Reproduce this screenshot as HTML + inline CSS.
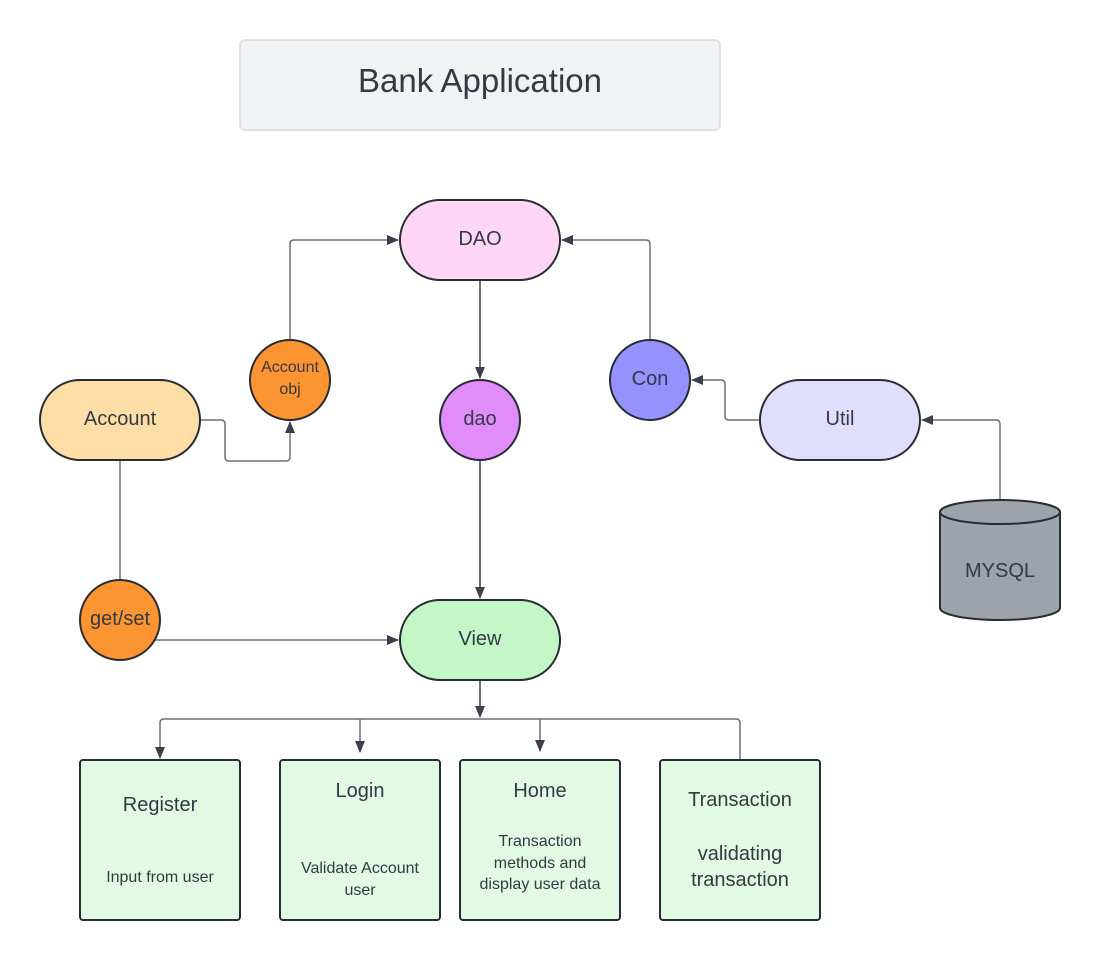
<!DOCTYPE html>
<html><head><meta charset="utf-8"><style>html,body{margin:0;padding:0;background:#fff;}svg{display:block;}</style></head>
<body>
<svg width="1100" height="960" viewBox="0 0 1100 960" xmlns="http://www.w3.org/2000/svg" font-family="Liberation Sans, Arial, sans-serif">
<defs>
<marker id="a" markerWidth="12" markerHeight="10" refX="11" refY="5" orient="auto" markerUnits="userSpaceOnUse">
<path d="M0,0 L12,5 L0,10 Z" fill="#3a414a"/></marker>
</defs>
<rect x="240" y="40" width="480" height="90" rx="5" fill="#f1f2f4" stroke="#dfe1e6" stroke-width="2"/>
<text x="480" y="92" font-size="33" text-anchor="middle" fill="#333a44">Bank Application</text>

<g fill="none" stroke="#6b7079" stroke-width="1.5">
<path d="M290,340 V244 Q290,240 294,240 H398" marker-end="url(#a)"/>
<path d="M200,420 H221 Q225,420 225,424 V457 Q225,461 229,461 H286 Q290,461 290,457 V422" marker-end="url(#a)"/>
<path d="M480,280 V378" stroke="#3a414a" marker-end="url(#a)"/>
<path d="M650,340 V244 Q650,240 646,240 H562" marker-end="url(#a)"/>
<path d="M760,420 H729 Q725,420 725,416 V384 Q725,380 721,380 H692" marker-end="url(#a)"/>
<path d="M1000,500 V424 Q1000,420 996,420 H922" marker-end="url(#a)"/>
<path d="M480,460 V598" stroke="#3a414a" marker-end="url(#a)"/>
<path d="M120,460 V580"/>
<path d="M155,640 H398" marker-end="url(#a)"/>
<path d="M480,680 V717" stroke="#3a414a" marker-end="url(#a)"/>
<path d="M736,719 H164 Q160,719 160,723 V758" marker-end="url(#a)"/>
<path d="M736,719 Q740,719 740,723 V760"/>
<path d="M360,719 V752" marker-end="url(#a)"/>
<path d="M540,719 V751" marker-end="url(#a)"/>
</g>

<g stroke="#282c33" stroke-width="2">
<rect x="400" y="200" width="160" height="80" rx="40" fill="#fed6f5"/>
<circle cx="290" cy="380" r="40" fill="#fc9432"/>
<circle cx="480" cy="420" r="40" fill="#e08cfa"/>
<circle cx="650" cy="380" r="40" fill="#9591fe"/>
<rect x="40" y="380" width="160" height="80" rx="40" fill="#fedea6"/>
<rect x="760" y="380" width="160" height="80" rx="40" fill="#dfdefd"/>
<path d="M940,512 V608 A60,12 0 0 0 1060,608 V512 A60,12 0 0 0 940,512 Z" fill="#9ea3ab"/>
<path d="M940,512 A60,12 0 0 0 1060,512" fill="none"/>
<circle cx="120" cy="620" r="40" fill="#fc9432"/>
<rect x="400" y="600" width="160" height="80" rx="40" fill="#c3f7c8"/>
<rect x="80" y="760" width="160" height="160" rx="3" fill="#e2f9e4"/>
<rect x="280" y="760" width="160" height="160" rx="3" fill="#e2f9e4"/>
<rect x="460" y="760" width="160" height="160" rx="3" fill="#e2f9e4"/>
<rect x="660" y="760" width="160" height="160" rx="3" fill="#e2f9e4"/>
</g>

<g fill="#333a44" text-anchor="middle">
<text x="480" y="245" font-size="20">DAO</text>
<text x="290" y="372" font-size="16">Account</text>
<text x="290" y="394" font-size="16">obj</text>
<text x="480" y="425" font-size="20">dao</text>
<text x="650" y="385" font-size="20">Con</text>
<text x="120" y="425" font-size="20">Account</text>
<text x="840" y="425" font-size="20">Util</text>
<text x="1000" y="577" font-size="20">MYSQL</text>
<text x="120" y="625" font-size="20">get/set</text>
<text x="480" y="645" font-size="20">View</text>
<text x="160" y="811" font-size="20">Register</text>
<text x="160" y="882" font-size="16">Input from user</text>
<text x="360" y="797" font-size="20">Login</text>
<text x="360" y="873" font-size="16">Validate Account</text>
<text x="360" y="895" font-size="16">user</text>
<text x="540" y="797" font-size="20">Home</text>
<text x="540" y="846" font-size="16">Transaction</text>
<text x="540" y="868" font-size="16">methods and</text>
<text x="540" y="889" font-size="16">display user data</text>
<text x="740" y="806" font-size="20">Transaction</text>
<text x="740" y="860" font-size="20">validating</text>
<text x="740" y="886" font-size="20">transaction</text>
</g>
</svg>
</body></html>
